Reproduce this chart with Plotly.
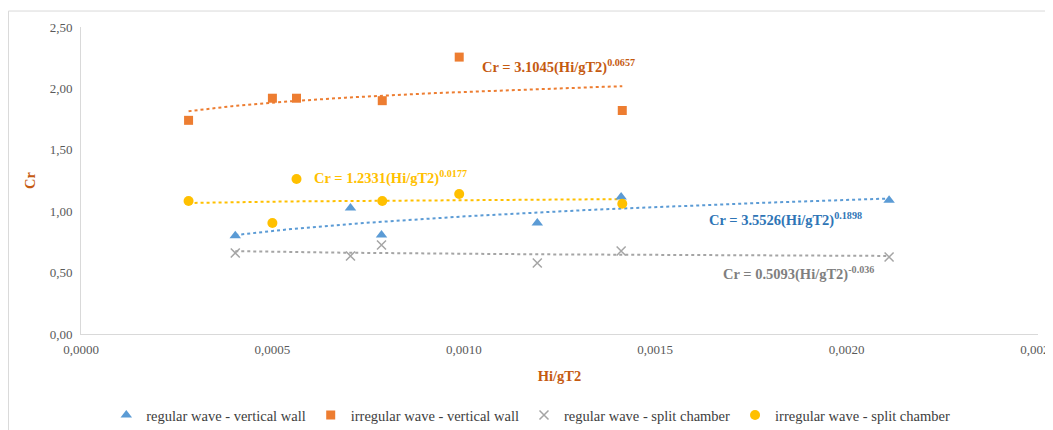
import numpy as np
import plotly.graph_objects as go

# ---- data ----
x_irr = [0.000281, 0.000500, 0.000563, 0.000787, 0.000988, 0.001414]
cr_irr_wall = [1.74, 1.92, 1.92, 1.90, 2.255, 1.82]
cr_irr_split = [1.083, 0.904, 1.262, 1.083, 1.14, 1.06]

x_reg = [0.000403, 0.000704, 0.000785, 0.001192, 0.001411, 0.002111]
cr_reg_wall = [0.80, 1.026, 0.806, 0.904, 1.116, 1.09]
cr_reg_split = [0.66, 0.635, 0.725, 0.578, 0.676, 0.627]

# power-law trend coefficients shown on the chart (a, b)
fit_reg_wall = (3.5526, 0.1898)
fit_irr_wall = (3.1045, 0.0657)
fit_reg_split = (0.5093, -0.036)
fit_irr_split = (1.2331, 0.0177)

x_ticks = [0, 0.0005, 0.0010, 0.0015, 0.0020, 0.0025]
x_ticklabels = ["0,0000", "0,0005", "0,0010", "0,0015", "0,0020", "0,0025"]
y_ticks = [0, 0.5, 1.0, 1.5, 2.0, 2.5]
y_ticklabels = ["0,00", "0,50", "1,00", "1,50", "2,00", "2,50"]

BLUE = "#5B9BD5"
ORANGE = "#ED7D31"
GREY = "#A5A5A5"
YELLOW = "#FFC000"
FONT = "Liberation Serif"

fig = go.Figure()


def trend(xs, fit, color):
    a, b = fit
    xx = np.linspace(min(xs), max(xs), 200)
    fig.add_trace(go.Scatter(x=xx, y=a * xx ** b, mode="lines",
                             line=dict(color=color, width=2, dash="dot"),
                             showlegend=False, hoverinfo="skip"))


trend(x_reg, fit_reg_wall, BLUE)
trend(x_irr, fit_irr_wall, ORANGE)
trend(x_reg, fit_reg_split, GREY)
trend(x_irr, fit_irr_split, YELLOW)

fig.add_trace(go.Scatter(x=x_reg, y=cr_reg_wall, mode="markers",
                         name="regular wave - vertical wall",
                         marker=dict(symbol="triangle-up", size=10, color=BLUE)))
fig.add_trace(go.Scatter(x=x_irr, y=cr_irr_wall, mode="markers",
                         name="irregular wave - vertical wall",
                         marker=dict(symbol="square", size=9, color=ORANGE)))
fig.add_trace(go.Scatter(x=x_reg, y=cr_reg_split, mode="markers",
                         name="regular wave - split chamber",
                         marker=dict(symbol="x-thin", size=9, color=GREY,
                                     line=dict(color=GREY, width=1.5))))
fig.add_trace(go.Scatter(x=x_irr, y=cr_irr_split, mode="markers",
                         name="irregular wave - split chamber",
                         marker=dict(symbol="circle", size=10, color=YELLOW)))

annos = [
    ("Cr = 3.1045(Hi/gT2)<sup>0.0657</sup>", 0.001043, 2.18, "#C55A11"),
    ("Cr = 1.2331(Hi/gT2)<sup>0.0177</sup>", 0.000604, 1.275, YELLOW),
    ("Cr = 3.5526(Hi/gT2)<sup>0.1898</sup>", 0.001636, 0.935, "#2E75B6"),
    ("Cr = 0.5093(Hi/gT2)<sup>-0.036</sup>", 0.001672, 0.49, "#7F7F7F"),
]
for txt, ax, ay, col in annos:
    fig.add_annotation(x=ax, y=ay, text="<b>" + txt + "</b>", showarrow=False,
                       xanchor="left", yanchor="middle",
                       font=dict(family=FONT, size=14.5, color=col))

# chart border
fig.add_shape(type="rect", xref="paper", yref="paper",
              x0=-0.0758, x1=1.0146, y0=-0.40, y1=1.052,
              line=dict(color="#D9D9D9", width=1), layer="below")

fig.update_layout(
    width=1045, height=422,
    margin=dict(l=73, r=15, t=19, b=96, autoexpand=False),
    paper_bgcolor="white", plot_bgcolor="white",
    font=dict(family=FONT, size=13, color="#595959"),
    xaxis=dict(range=[0, 0.0025], tickvals=x_ticks, ticktext=x_ticklabels,
               showgrid=False, zeroline=False, showline=True,
               linecolor="#D9D9D9", linewidth=1, ticks="", automargin=False,
               ticklabeloverflow="allow", ticklabelstandoff=3,
               tickfont=dict(family=FONT, size=13, color="#595959"),
               title=dict(text="<b>Hi/gT2</b>", standoff=15,
                          font=dict(family=FONT, size=14.5, color="#C55A11"))),
    yaxis=dict(range=[0, 2.5], tickvals=y_ticks, ticktext=y_ticklabels,
               showgrid=False, zeroline=False, showline=True,
               linecolor="#D9D9D9", linewidth=1, ticks="", automargin=False,
               ticklabeloverflow="allow", ticklabelstandoff=5,
               tickfont=dict(family=FONT, size=13, color="#595959"),
               title=dict(text="<b>Cr</b>", standoff=10,
                          font=dict(family=FONT, size=14.5, color="#C55A11"))),
    legend=dict(orientation="h", x=0.47, xanchor="center", y=-0.264,
                yanchor="middle", font=dict(family=FONT, size=14.5, color="#404040"),
                itemwidth=30),
    showlegend=True,
)

fig.write_html("out.html")
